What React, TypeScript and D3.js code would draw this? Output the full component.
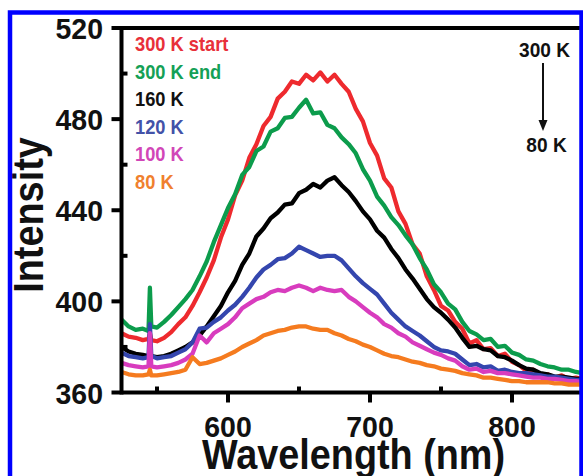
import React from 'react';
import * as d3 from 'd3';

// Wavelength samples (nm)
const wavelengths = [
  525, 530, 535, 540, 544, 545, 546, 550, 555, 560, 565, 570, 575, 580, 585, 590, 595, 600,
  605, 610, 615, 620, 625, 630, 635, 640, 645, 650, 655, 660, 665, 670, 675, 680, 685, 690,
  695, 700, 705, 710, 715, 720, 725, 730, 735, 740, 745, 750, 755, 760, 765, 770, 775, 780,
  785, 790, 795, 800, 805, 810, 815, 820, 825, 830, 835, 840, 845, 850,
];

const k300start = [
  386, 384.5, 384, 383, 383.5, 386, 383, 382.5, 384, 386.5, 390, 393, 398, 404, 410.5, 418, 428, 436,
  446.5, 453, 463, 469, 477, 481, 489, 492, 496.5, 495.5, 499.5, 497, 500.5, 496.5, 499.5, 495.5, 492, 484.5,
  479, 469.5, 464, 454, 450, 439.5, 434, 425, 421, 411, 405, 398, 396, 391, 388, 381.5, 383, 379,
  379.5, 376, 377, 373.5, 372, 369.5, 370, 368, 368, 366.5, 367.5, 366, 366.5, 366,
];

const k300end = [
  392, 389, 387.5, 388, 387, 406, 389, 388.5, 391, 394, 397.5, 401, 405, 411, 417.5, 426, 433.5, 441,
  447, 455.5, 459, 466, 468, 474.5, 476, 480.5, 481, 485, 488.5, 482.5, 483, 477.5, 476, 472, 469, 465,
  458, 453, 446, 442, 437, 433.5, 429, 425, 419, 414, 407.5, 404, 399, 396.5, 391, 387, 385.5, 383,
  383.5, 380, 380.5, 377.5, 376.5, 374.5, 374, 372.5, 371.5, 371, 370, 370, 369, 368.5,
];

const k160 = [
  380, 378, 377, 376.5, 376, 378, 376, 375.5, 376, 377, 378.5, 380, 382, 385, 389, 393.5, 398, 404,
  409, 416, 421, 428.5, 432, 436.5, 439, 442.5, 443, 447.5, 449, 451.5, 450, 453, 454.5, 451, 448, 444,
  439.5, 436, 431, 428, 423, 419, 414, 410, 405.5, 401, 397.5, 395, 392, 388.5, 384, 380, 380.5, 379,
  378.5, 376, 375.5, 374, 372, 370.5, 370, 368.5, 368, 367, 367, 366.5, 366, 366,
];

const k120 = [
  377.5, 376, 375.5, 375, 375.5, 390, 376, 375, 375.5, 376, 377.5, 379, 382, 388, 388.5, 391, 393, 396,
  398.5, 402, 406, 410.5, 414, 416, 418.5, 419, 421, 424, 422.5, 421, 419.5, 420, 420, 418, 414.5, 411,
  408, 405.5, 403, 399, 395, 392, 389, 387, 385, 382.5, 380, 378.5, 378, 377, 374.5, 372, 372.5, 371,
  371.5, 369.5, 370, 369, 368.5, 368.5, 368, 367.5, 367, 367, 366.5, 366, 365.5, 365.5,
];

const k100 = [
  373, 372, 371.5, 371, 371.5, 386, 371.5, 371, 371.5, 372, 373, 374.5, 377, 385, 382, 386, 388, 390,
  393, 397, 399, 401, 402, 404, 405, 404.5, 406, 407, 406, 404.5, 406, 405, 404.5, 405, 402, 400,
  397.5, 395, 393, 390, 388.5, 386, 384.5, 382, 380.5, 379, 377.5, 376.5, 375, 374, 371.5, 370, 370.5, 369,
  369.5, 368.5, 368.5, 368, 367.5, 367, 366.5, 366.5, 366, 366, 365.5, 365, 365, 364.5,
];

const k80 = [
  369, 368, 367.5, 367.5, 368, 370, 367.5, 367.5, 368, 368.5, 369, 370, 375.5, 372.5, 373, 374, 375, 376.5,
  378, 380, 381.5, 383, 385, 386, 387, 387.5, 388.5, 389, 389, 388, 387.5, 387.5, 386, 385, 383.5, 382.5,
  381, 380, 378.5, 377, 376, 375.5, 374.5, 373.5, 373, 372, 371.5, 370.5, 370, 369.5, 368.5, 368, 367.5, 366.5,
  366.5, 366, 365.5, 365, 365, 364.5, 364.5, 364.5, 364.5, 364, 364, 363.5, 363.5, 363.5,
];

const seriesNames = ['300 K start', '300 K end', '160 K', '120 K', '100 K', '80 K'];
const seriesValues = [k300start, k300end, k160, k120, k100, k80];

const xMajorTicks = [600, 700, 800];
const xMinorTicks = [550, 650, 750];
const yMajorTicks = [360, 400, 440, 480, 520];
const yMinorTicks = [380, 420, 460, 500];

const lineColors = ['#ee2a2e', '#0c9c4c', '#000000', '#3446ae', '#d83cbe', '#f57b1f'];
const textColors = ['#e8303a', '#14a056', '#111111', '#4352a8', '#d146b8', '#f0802e'];

const FONT = '"Liberation Sans", Arial, Helvetica, sans-serif';

function SText({ x, y, sx = 1, rotate = 0, children, ...rest }: any) {
  return (
    <text
      transform={`translate(${x},${y}) rotate(${rotate}) scale(${sx},1)`}
      fontFamily={FONT}
      fontWeight={700}
      {...rest}
    >
      {children}
    </text>
  );
}

export default function App() {
  const W = 583;
  const H = 476;
  const x = d3.scaleLinear().domain([525, 850]).range([121.5, 583]);
  const y = d3.scaleLinear().domain([360, 520]).range([392.5, 28]);
  const left = x(525);
  const bottom = y(360);
  const top = y(520);

  const line = d3
    .line<number>()
    .x((_, i) => x(wavelengths[i]))
    .y((d) => y(d));

  return (
    <svg
      width={W}
      height={H}
      style={{ position: 'absolute', left: 0, top: 0, background: '#fff' }}
    >
      <defs>
        <clipPath id="plotclip">
          <rect x={left} y={top - 5} width={W - left} height={bottom - top + 5} />
        </clipPath>
      </defs>
      <rect x={0} y={0} width={W} height={H} fill="#fff" />

      {/* curves */}
      <g clipPath="url(#plotclip)">
        {seriesValues.map((vals, i) => (
          <path
            key={i}
            d={line(vals) || ''}
            fill="none"
            stroke={lineColors[i]}
            strokeWidth={4.3}
            strokeLinejoin="round"
          />
        ))}
      </g>

      {/* axes frame */}
      <line x1={left} x2={W} y1={top} y2={top} stroke="#000" strokeWidth={4} />
      <line x1={left} x2={W} y1={bottom} y2={bottom} stroke="#000" strokeWidth={4} />
      <line x1={left} x2={left} y1={top - 2} y2={bottom + 2} stroke="#000" strokeWidth={4} />

      {/* x ticks */}
      {xMajorTicks.map((t) => (
        <g key={'xM' + t}>
          <line x1={x(t)} x2={x(t)} y1={bottom} y2={bottom + 10} stroke="#000" strokeWidth={4} />
          <SText x={x(t)} y={437} sx={0.95} fontSize={30} textAnchor="middle" fill="#111">
            {String(t)}
          </SText>
        </g>
      ))}
      {xMinorTicks.map((t) => (
        <line key={'xm' + t} x1={x(t)} x2={x(t)} y1={bottom} y2={bottom - 6} stroke="#000" strokeWidth={4} />
      ))}

      {/* y ticks */}
      {yMajorTicks.map((t) => (
        <g key={'yM' + t}>
          <line x1={left} x2={left - 10} y1={y(t)} y2={y(t)} stroke="#000" strokeWidth={4} />
          <SText x={103} y={y(t) + 11} sx={0.95} fontSize={30} textAnchor="end" fill="#111">
            {String(t)}
          </SText>
        </g>
      ))}
      {yMinorTicks.map((t) => (
        <line key={'ym' + t} x1={left} x2={left + 6} y1={y(t)} y2={y(t)} stroke="#000" strokeWidth={4} />
      ))}

      {/* axis titles */}
      <SText x={353.5} y={469} sx={0.9} fontSize={42} textAnchor="middle" fill="#111">
        Wavelength (nm)
      </SText>
      <SText x={43} y={215} rotate={-90} sx={0.88} fontSize={43} textAnchor="middle" fill="#111">
        Intensity
      </SText>

      {/* legend */}
      {seriesNames.map((name, i) => (
        <SText key={name} x={135} y={51 + i * 27.6} sx={0.87} fontSize={21} fill={textColors[i]}>
          {name}
        </SText>
      ))}

      {/* temperature arrow annotation */}
      <SText x={544.5} y={57} sx={0.91} fontSize={21} textAnchor="middle" fill="#111">
        300 K
      </SText>
      <line x1={543} x2={543} y1={63} y2={122} stroke="#111" strokeWidth={2} />
      <polygon points="538.5,120 547.5,120 543,131" fill="#111" />
      <SText x={546.5} y={152} sx={0.91} fontSize={21} textAnchor="middle" fill="#111">
        80 K
      </SText>

      {/* blue frame */}
      <rect x={10} y={12.5} width={571.5} height={520} fill="none" stroke="#0000ff" strokeWidth={4.5} />
    </svg>
  );
}
